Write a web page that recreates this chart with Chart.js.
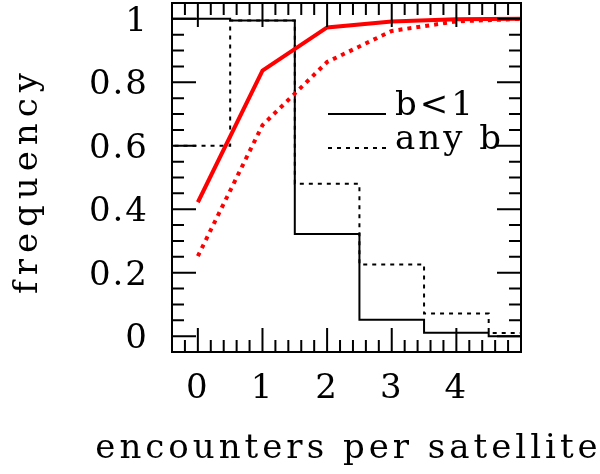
<!DOCTYPE html>
<html>
<head>
<meta charset="utf-8">
<script src="https://cdn.jsdelivr.net/npm/chart.js@4.4.0/dist/chart.umd.min.js"></script>
<style>
  html, body { margin: 0; padding: 0; background: #fff; }
  #wrap { width: 600px; height: 474px; }
</style>
</head>
<body>
<div id="wrap"><canvas id="chart" width="600" height="474"></canvas></div>
<script>
// histogram (black): bins centred on 0..5, given by their edges
const binEdges = [-0.5, 0.5, 1.5, 2.5, 3.5, 4.5, 5.5];
const histSmallB = [1.0, 0.995, 0.322, 0.052, 0.0105, 0.0];   // b<1
const histAnyB = [0.6, 0.995, 0.48, 0.226, 0.071, 0.01];      // any b

// cumulative curves (red)
const encounters = [0, 1, 2, 3, 4, 5];
const cumSmallB = [0.422, 0.837, 0.973, 0.992, 0.999, 1.0];
const cumAnyB = [0.252, 0.665, 0.864, 0.962, 0.992, 1.0];

const legendLabels = ['b<1', 'any b'];
const xTickLabels = ['0', '1', '2', '3', '4'];
const yTickLabels = ['0', '0.2', '0.4', '0.6', '0.8', '1'];
const xTitle = 'encounters per satellite';
const yTitle = 'frequency';

const FONT = 'DejaVu Serif';
const SIZE = 34;

const stepPoints = vals => binEdges.map((x, i) => ({ x, y: vals[Math.min(i, vals.length - 1)] }));
const curvePoints = vals => encounters.map((x, i) => ({ x, y: vals[i] }));

const nearMultiple = (v, step) => Math.abs(v / step - Math.round(v / step)) < 1e-6;

// frame, inward ticks on all four sides, axis titles and the in-plot legend
const frameTicks = {
  id: 'frameTicks',
  beforeUpdate(chart) { chart.ctx.letterSpacing = '2px'; },
  beforeDraw(chart) { chart.ctx.letterSpacing = '2px'; },
  afterDatasetsDraw(chart) {
    const { ctx, chartArea: a, scales } = chart;
    ctx.save();
    ctx.strokeStyle = '#000';
    ctx.lineWidth = 2;
    ctx.setLineDash([]);
    ctx.beginPath();
    scales.x.ticks.forEach(t => {
      const px = scales.x.getPixelForValue(t.value);
      if (px <= a.left + 1 || px >= a.right - 1) return;
      const len = nearMultiple(t.value, 1) ? 24 : 12;
      ctx.moveTo(px, a.bottom); ctx.lineTo(px, a.bottom - len);
      ctx.moveTo(px, a.top); ctx.lineTo(px, a.top + len);
    });
    scales.y.ticks.forEach(t => {
      const py = scales.y.getPixelForValue(t.value);
      if (py <= a.top + 1 || py >= a.bottom - 1) return;
      const len = nearMultiple(t.value, 0.2) ? 24 : 12;
      ctx.moveTo(a.left, py); ctx.lineTo(a.left + len, py);
      ctx.moveTo(a.right, py); ctx.lineTo(a.right - len, py);
    });
    ctx.stroke();
    ctx.strokeRect(a.left, a.top, a.width, a.height);

    ctx.font = SIZE + 'px "' + FONT + '"';
    ctx.fillStyle = '#000';
    ctx.textBaseline = 'alphabetic';

    // axis titles (drawn here so they are not squeezed to the axis width)
    ctx.textAlign = 'center';
    ctx.letterSpacing = '4px';
    ctx.fillText(xTitle, (a.left + a.right) / 2 + 2, 458);
    ctx.save();
    ctx.letterSpacing = '6px';
    ctx.translate(37, (a.top + a.bottom) / 2 + 3);
    ctx.rotate(-Math.PI / 2);
    ctx.fillText(yTitle, 0, 0);
    ctx.restore();

    // legend for the black histograms
    const black = chart.data.datasets.filter(d => d.borderColor === '#000');
    ctx.textAlign = 'left';
    ctx.letterSpacing = '3px';
    black.forEach((d, i) => {
      const y = a.top + 111 + i * 34;
      ctx.beginPath();
      ctx.lineWidth = 2;
      ctx.setLineDash(d.borderDash || []);
      ctx.moveTo(a.left + 156, y);
      ctx.lineTo(a.left + 214, y);
      ctx.stroke();
      ctx.fillText(d.label, a.left + 223, y + 1);
    });
    ctx.restore();
  }
};

new Chart(document.getElementById('chart'), {
  type: 'line',
  data: {
    datasets: [
      { label: 'cumulative b<1', data: curvePoints(cumSmallB), borderColor: '#ff0000',
        borderWidth: 4, pointRadius: 0, fill: false },
      { label: 'cumulative any b', data: curvePoints(cumAnyB), borderColor: '#ff0000',
        borderWidth: 4, borderDash: [4, 5], pointRadius: 0, fill: false },
      { label: legendLabels[0], data: stepPoints(histSmallB), stepped: true, borderColor: '#000',
        borderWidth: 2, pointRadius: 0, fill: false },
      { label: legendLabels[1], data: stepPoints(histAnyB), stepped: true, borderColor: '#000',
        borderWidth: 2, borderDash: [4, 5], pointRadius: 0, fill: false }
    ]
  },
  options: {
    responsive: false,
    animation: false,
    devicePixelRatio: 1,
    layout: { padding: { top: 3, right: 79, left: 0, bottom: 0 } },
    plugins: { legend: { display: false }, tooltip: { enabled: false } },
    scales: {
      x: {
        type: 'linear', min: -0.4, max: 5,
        grid: { display: false, drawTicks: false },
        border: { display: false },
        ticks: {
          stepSize: 0.2, autoSkip: false, maxRotation: 0, padding: 17, color: '#000',
          font: { family: FONT, size: SIZE, lineHeight: 1.2 },
          callback: v => (nearMultiple(v, 1) && v >= 0 && v < xTickLabels.length) ? xTickLabels[Math.round(v)] : ''
        },
        title: { display: false, text: xTitle },
        afterFit: s => { s.height = 122; s.paddingLeft = 0; s.paddingRight = 0; }
      },
      y: {
        type: 'linear', min: -0.05, max: 1.05,
        grid: { display: false, drawTicks: false },
        border: { display: false },
        ticks: {
          stepSize: 0.05, autoSkip: false, padding: 23, labelOffset: 3, color: '#000',
          font: { family: FONT, size: SIZE, lineHeight: 1.2 },
          callback: v => (nearMultiple(v, 0.2) && v > -0.01 && v < 1.01) ? yTickLabels[Math.round(v / 0.2)] : ''
        },
        title: { display: false, text: yTitle },
        afterFit: s => { s.width = 172; s.paddingTop = 0; s.paddingBottom = 0; }
      }
    }
  },
  plugins: [frameTicks]
});
</script>
</body>
</html>
